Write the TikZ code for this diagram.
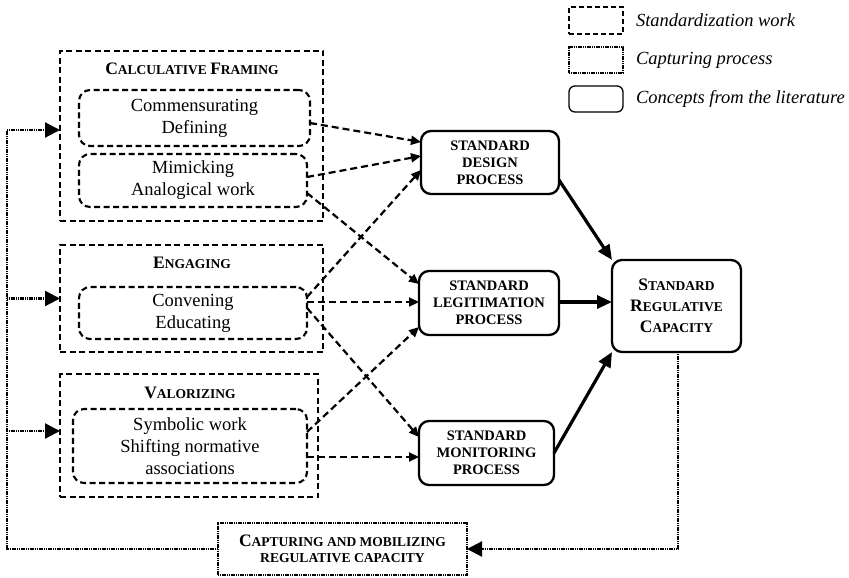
\documentclass[tikz,border=0pt]{standalone}
\usepackage{fontspec}
\setmainfont{Liberation Serif}
\usetikzlibrary{arrows.meta,calc}
\newcommand{\bigsc}[2]{{\fontsize{17.5}{20}\selectfont #1}{\fontsize{13.5}{20}\selectfont #2}}
\begin{document}
\begin{tikzpicture}[x=1pt,y=-1pt,
  every node/.style={inner sep=0pt, outer sep=0pt},
  groupbox/.style={draw, line width=2.1pt, dash pattern=on 6pt off 3.5pt},
  workbox/.style={draw, line width=2.1pt, dash pattern=on 6pt off 3.5pt, rounded corners=11pt, align=center, font=\fontsize{18.5}{22}\selectfont},
  conceptbox/.style={draw, line width=2.3pt, rounded corners=10pt, align=center, font=\bfseries\fontsize{14.5}{17}\selectfont},
  capturebox/.style={draw, line width=2.3pt, dash pattern=on 1.2pt off 0.6pt, align=center},
  titletext/.style={font=\bfseries},
  workarrow/.style={line width=2.2pt, dash pattern=on 7pt off 4pt, -{Triangle[length=10pt,width=9pt]}},
  mainarrow/.style={line width=3.2pt, -{Triangle[length=15pt,width=13pt]}},
  fbline/.style={line width=2.2pt, dash pattern=on 1.2pt off 0.6pt},
  fbarrow/.style={fbline, -{Triangle[length=15pt,width=15pt]}},
  legendtext/.style={anchor=west, font=\itshape\fontsize{18.5}{22}\selectfont}
]
\useasboundingbox (0,0) rectangle (849,578);

% legend
\node[draw, line width=1.8pt, dash pattern=on 5pt off 3pt, minimum width=54pt, minimum height=27pt] (lg1) at (596,20.5) {};
\node[legendtext] (lg1t) at (636,20) {Standardization work};
\node[draw, line width=1.8pt, dash pattern=on 1.2pt off 0.6pt, minimum width=54pt, minimum height=26pt] (lg2) at (596,60) {};
\node[legendtext] (lg2t) at (636,60) {Capturing process};
\node[draw, line width=1.3pt, rounded corners=6pt, minimum width=54pt, minimum height=26pt] (lg3) at (596,99) {};
\node[legendtext] (lg3t) at (636,99) {Concepts from the literature};

% group boxes
\node[groupbox, minimum width=263pt, minimum height=170pt] (cf) at (191.5,136) {};
\node[titletext] (cft) at (192,69) {\bigsc{C}{ALCULATIVE }\bigsc{F}{RAMING}};
\node[workbox, minimum width=231pt, minimum height=56pt] (cf1) at (194.5,118) {Commensurating\\Defining};
\node[workbox, minimum width=228pt, minimum height=53pt] (cf2) at (193,180.5) {Mimicking\\Analogical work};

\node[groupbox, minimum width=263pt, minimum height=107pt] (eng) at (191.5,298.5) {};
\node[titletext] (engt) at (192,263) {\bigsc{E}{NGAGING}};
\node[workbox, minimum width=228pt, minimum height=52pt] (eng1) at (193,313) {Convening\\Educating};

\node[groupbox, minimum width=258pt, minimum height=123pt] (val) at (189,435.5) {};
\node[titletext] (valt) at (190,393) {\bigsc{V}{ALORIZING}};
\node[workbox, minimum width=234pt, minimum height=74pt] (val1) at (190,446) {Symbolic work\\Shifting normative\\associations};

% concept boxes
\node[conceptbox, minimum width=138pt, minimum height=63pt] (des) at (490,162.5) {STANDARD\\DESIGN\\PROCESS};
\node[conceptbox, minimum width=140pt, minimum height=64pt] (leg) at (489,303) {STANDARD\\LEGITIMATION\\PROCESS};
\node[conceptbox, minimum width=135pt, minimum height=64pt] (mon) at (486.5,453) {STANDARD\\MONITORING\\PROCESS};
\node[conceptbox, minimum width=129pt, minimum height=92pt, font=\bfseries\fontsize{17.5}{21}\selectfont] (reg) at (676.5,306) {\bigsc{S}{TANDARD}\\\bigsc{R}{EGULATIVE}\\\bigsc{C}{APACITY}};

% capture box
\node[capturebox, minimum width=249pt, minimum height=52pt, font=\bfseries\fontsize{13.6}{16}\selectfont] (cap) at (342.5,549) {\bigsc{C}{APTURING AND MOBILIZING}\\REGULATIVE CAPACITY};

% work arrows
\draw[workarrow] ([yshift=-5pt]cf1.east) -- ([yshift=20.5pt]des.west);
\draw[workarrow] ([yshift=3.5pt]cf2.east) -- ([yshift=6.5pt]des.west);
\draw[workarrow] ([yshift=16pt]eng1.east) -- ([yshift=-7.5pt]des.west);
\draw[workarrow] ([yshift=-12.5pt]cf2.east) -- ([yshift=19pt]leg.west);
\draw[workarrow] ([yshift=11pt]eng1.east) -- ([yshift=1pt]leg.west);
\draw[workarrow] ([yshift=5pt]eng1.east) -- ([yshift=16pt]mon.west);
\draw[workarrow] ([yshift=14pt]val1.east) -- ([yshift=-24pt]leg.west);
\draw[workarrow] ([yshift=-11pt]val1.east) -- ([yshift=-4pt]mon.west);

% main arrows
\draw[mainarrow] ([yshift=-17.5pt]des.east) -- (reg.north west);
\draw[mainarrow] ([yshift=1pt]leg.east) -- ([yshift=4pt]reg.west);
\draw[mainarrow] (mon.east) -- (reg.south west);

% feedback
\draw[fbarrow] ([xshift=1.5pt]reg.south) |- (cap.east);
\coordinate (fbl) at (7,549);
\coordinate (fbt) at (7,130);
\draw[fbline] (cap.west) -- (fbl) -- (fbt);
\draw[fbarrow] (fbt) -- ([yshift=6pt]cf.west);
\draw[fbarrow] (fbl |- eng.west) -- (eng.west);
\coordinate (vt) at ([yshift=4.5pt]val.west);
\draw[fbarrow] (fbl |- vt) -- (vt);
\end{tikzpicture}
\end{document}
